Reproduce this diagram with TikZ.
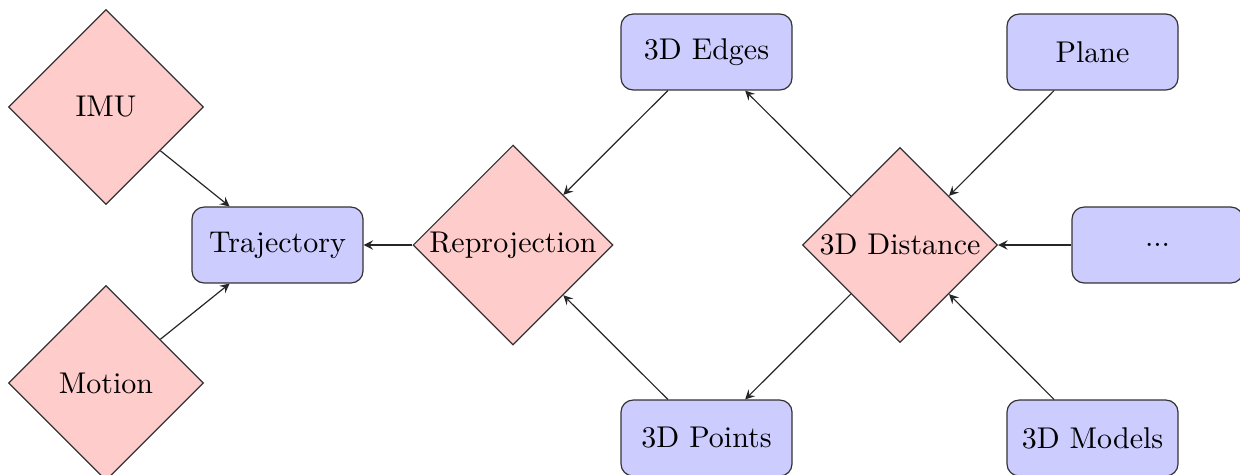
\documentclass[tikz,border=0pt]{standalone}
\usetikzlibrary{shapes.geometric,arrows}
\tikzset{
  dia/.style={diamond, draw=black!80, fill=red!20, minimum width=65pt, minimum height=65pt, inner sep=0.5pt, aspect=1},
  blk/.style={rectangle, rounded corners=4pt, draw=black!80, fill=blue!20, minimum width=57pt, minimum height=25.3pt, inner sep=0pt},
  arr/.style={draw=black!85, ->, >=stealth}
}
\begin{document}
\begin{tikzpicture}[x=0.33333pt,y=-0.33333pt]
\clip (0,0) rectangle (1240,474);
\useasboundingbox (0,0) rectangle (1240,474);
\node[dia] (imu) at (106,107) {IMU};
\node[dia] (motion) at (106,383) {Motion};
\node[blk] (traj) at (277.5,245) {Trajectory};
\node[dia] (rep) at (513,245) {Reprojection};
\node[blk] (edges) at (706.5,52) {3D Edges};
\node[blk] (points) at (706.5,438) {3D Points};
\node[dia] (dist) at (900,245) {3D Distance};
\node[blk] (plane) at (1092.5,52) {Plane};
\node[blk] (dots) at (1157.5,245) {...};
\node[blk] (models) at (1092.5,438) {3D Models};
\draw[arr] (imu) -- (traj);
\draw[arr] (motion) -- (traj);
\draw[arr] (rep) -- (traj);
\draw[arr] (edges) -- (rep);
\draw[arr] (points) -- (rep);
\draw[arr] (dist) -- (edges);
\draw[arr] (dist) -- (points);
\draw[arr] (plane) -- (dist);
\draw[arr] (dots) -- (dist);
\draw[arr] (models) -- (dist);
\end{tikzpicture}
\end{document}
